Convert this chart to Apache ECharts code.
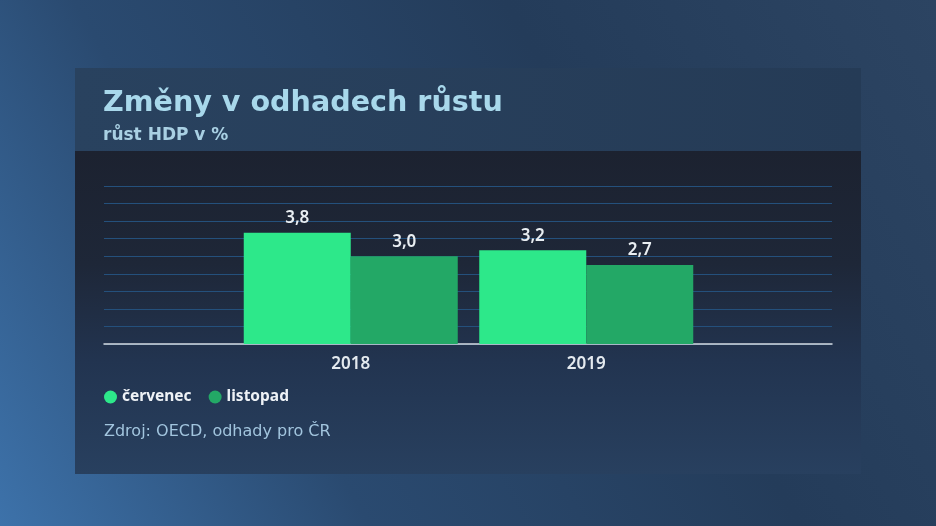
<!DOCTYPE html>
<html>
<head>
<meta charset="utf-8">
<script src="https://cdn.jsdelivr.net/npm/echarts@6/dist/echarts.min.js"></script>
<style>
html,body{margin:0;padding:0;background:#223650;}
#c{width:936px;height:526px;}
</style>
</head>
<body>
<div id="c"></div>
<script>
const categories = ['2018', '2019'];
const cervenec = [3.8, 3.2];
const listopad = [3.0, 2.7];
const seriesNames = ['červenec', 'listopad'];
const titleText = 'Změny v odhadech růstu';
const subtitleText = 'růst HDP v %';
const sourceText = 'Zdroj: OECD, odhady pro ČR';

const FONT = '"Noto Sans", "Open Sans", sans-serif';
const WIDE = '"DejaVu Sans", "Noto Sans", sans-serif';
const fmt = p => p.value.toFixed(1).replace('.', ',');

const chart = echarts.init(document.getElementById('c'), null, {renderer: 'canvas'});
const yAx = (show) => ({
  type: 'value', min: 0, max: 5.4, interval: 0.6,
  axisLabel: {show: false}, axisLine: {show: false}, axisTick: {show: false},
  splitLine: {show: show, lineStyle: {color: '#24507c', width: 1}}
});
chart.setOption({
  backgroundColor: 'transparent',
  textStyle: {fontFamily: FONT},
  graphic: [
    {type: 'rect', z: -100, shape: {x: 0, y: 0, width: 936, height: 526},
     style: {fill: new echarts.graphic.LinearGradient(0, 1, 1, 0, [
       {offset: 0, color: '#3d72aa'}, {offset: 0.3, color: '#2a4a70'},
       {offset: 0.65, color: '#243c5a'}, {offset: 1, color: '#2c4462'}])}},
    {type: 'rect', z: -90, shape: {x: 75, y: 68, width: 786, height: 83},
     style: {fill: new echarts.graphic.LinearGradient(0, 0, 1, 0, [
       {offset: 0, color: '#29425f'}, {offset: 1, color: '#253b56'}])}},
    {type: 'rect', z: -90, shape: {x: 75, y: 151, width: 786, height: 323},
     style: {fill: new echarts.graphic.LinearGradient(0, 0, 0, 1, [
       {offset: 0, color: '#1c2230'}, {offset: 0.35, color: '#1e2738'},
       {offset: 0.65, color: '#223450'}, {offset: 1, color: '#28405f'}])}},
    {type: 'text', z: 10, left: 104, top: 424,
     style: {text: sourceText, font: '400 16px ' + WIDE, fill: '#a2c5de'}}
  ],
  title: {
    text: titleText, subtext: subtitleText,
    left: 103, top: 89, padding: 0, itemGap: 9,
    textStyle: {fontFamily: WIDE, fontSize: 28.6, fontWeight: 'bold', color: '#a8d8eb'},
    subtextStyle: {fontFamily: WIDE, fontSize: 17, fontWeight: 'bold', color: '#a9d0e3'}
  },
  legend: {
    data: seriesNames, left: 99, top: 384, icon: 'circle',
    itemWidth: 13, itemHeight: 13, itemGap: 17,
    textStyle: {fontFamily: FONT, fontSize: 15.5, fontWeight: 'bold', color: '#eef2f6'}
  },
  grid: [
    {left: 104, right: 104, top: 186, bottom: 182},
    {left: 233, right: 232, top: 186, bottom: 182}
  ],
  xAxis: [
    {gridIndex: 0, type: 'category', data: [''],
     axisLine: {show: true, lineStyle: {color: '#d5dae0', width: 1.5}},
     axisTick: {show: false}, axisLabel: {show: false}, splitLine: {show: false}},
    {gridIndex: 1, type: 'category', data: categories,
     axisLine: {show: false}, axisTick: {show: false},
     axisLabel: {margin: 12, fontFamily: FONT, fontSize: 17, fontWeight: 600, color: '#e4eaef'}}
  ],
  yAxis: [
    Object.assign({gridIndex: 0}, yAx(true)),
    Object.assign({gridIndex: 1}, yAx(false))
  ],
  series: [
    {name: seriesNames[0], type: 'bar', xAxisIndex: 1, yAxisIndex: 1, data: cervenec,
     barWidth: 107, barGap: '0%', itemStyle: {color: '#2de88a'},
     label: {show: true, position: 'top', distance: 6, formatter: fmt,
       fontFamily: FONT, fontSize: 17, fontWeight: 600, color: '#e9eef2'}},
    {name: seriesNames[1], type: 'bar', xAxisIndex: 1, yAxisIndex: 1, data: listopad,
     barWidth: 107, barGap: '0%', itemStyle: {color: '#23a866'},
     label: {show: true, position: 'top', distance: 6, formatter: fmt,
       fontFamily: FONT, fontSize: 17, fontWeight: 600, color: '#e9eef2'}}
  ]
});
</script>
</body>
</html>
